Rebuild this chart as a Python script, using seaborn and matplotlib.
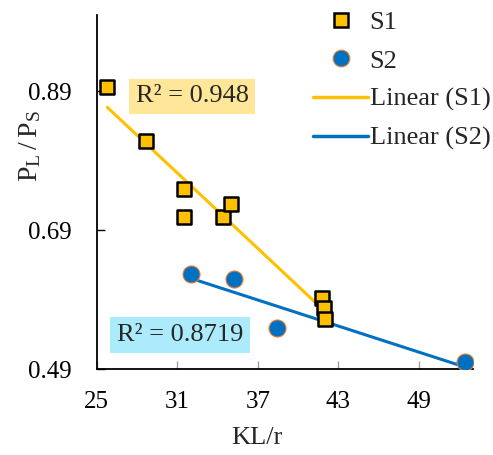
import matplotlib
matplotlib.use("Agg")
import matplotlib.pyplot as plt
from matplotlib.lines import Line2D
import pandas as pd
import seaborn as sns

# values
s1_x = [25.8, 28.65, 31.5, 31.5, 34.4, 35.0, 41.8, 41.9, 42.0]
s1_y = [0.897, 0.819, 0.749, 0.709, 0.709, 0.728, 0.593, 0.578, 0.562]
s2_x = [32.0, 35.2, 38.4, 52.4]
s2_y = [0.627, 0.619, 0.549, 0.500]
x_ticks = [25, 31, 37, 43, 49]
y_ticks = [0.49, 0.69, 0.89]
r2_s1 = "R² = 0.948"
r2_s2 = "R² = 0.8719"

gold = "#FFC000"
blue = "#0070C0"
orange = "#ED7D31"

sns.set_style("ticks")
plt.rcParams["font.family"] = ["Liberation Serif", "DejaVu Serif"]
plt.rcParams["mathtext.fontset"] = "custom"
plt.rcParams["mathtext.rm"] = "Liberation Serif"
plt.rcParams["mathtext.it"] = "Liberation Serif:italic"

df1 = pd.DataFrame({"x": s1_x, "y": s1_y})
df2 = pd.DataFrame({"x": s2_x, "y": s2_y})

fig = plt.figure(figsize=(4.93, 4.55), dpi=100)
ax = fig.add_axes([0.196, 0.189, 0.763, 0.778])

# trend lines
sns.regplot(data=df1, x="x", y="y", ax=ax, scatter=False, ci=None, truncate=True,
            line_kws={"color": gold, "lw": 2.2, "zorder": 2})
sns.regplot(data=df2, x="x", y="y", ax=ax, scatter=False, ci=None, truncate=True,
            line_kws={"color": blue, "lw": 2.2, "zorder": 2})

# points
sns.scatterplot(data=df1, x="x", y="y", ax=ax, marker="s", s=105, color=gold,
                edgecolor="black", linewidth=1.8, zorder=3)
sns.scatterplot(data=df2, x="x", y="y", ax=ax, marker="o", s=150, color=blue,
                edgecolor=orange, linewidth=0.8, zorder=3)

ax.set_xlim(25, 53)
ax.set_ylim(0.49, 1.0)
ax.set_xticks(x_ticks)
ax.set_yticks(y_ticks)
ax.set_yticklabels([f"{v:.2f}" for v in y_ticks])
ax.tick_params(direction="in", length=6, width=1, labelsize=18, colors="black")
ax.tick_params(axis="x", color="#A0A0A0", pad=16)
ax.tick_params(axis="y", pad=18)
sns.despine(ax=ax)
for sp in ["left", "bottom"]:
    ax.spines[sp].set_linewidth(1.3)
    ax.spines[sp].set_color("black")

ax.set_xlabel("KL/r", fontsize=19)
ax.set_ylabel(r"$\mathrm{P_L\:/\:P_S}$", fontsize=20)
ax.xaxis.set_label_coords(0.426, -0.163)
ax.yaxis.set_label_coords(-0.143, 0.63)

# R² labels
ax.text(32.1, 0.883, r2_s1, fontsize=19, ha="center", va="center", zorder=4,
        bbox=dict(boxstyle="square,pad=0.25", facecolor="#FFE699", edgecolor="none"))
ax.text(31.2, 0.539, r2_s2, fontsize=19, ha="center", va="center", zorder=4,
        bbox=dict(boxstyle="square,pad=0.25", facecolor="#ACEBFB", edgecolor="none"))

handles = [
    Line2D([], [], ls="none", marker="s", ms=10, mfc=gold, mec="black", mew=1.8),
    Line2D([], [], ls="none", marker="o", ms=12, mfc=blue, mec=orange, mew=0.8),
    Line2D([], [], color=gold, lw=2.5),
    Line2D([], [], color=blue, lw=2.5),
]
labels = ["S1", "S2", "Linear (S1)", "Linear (S2)"]
fig.legend(handles, labels, loc="upper right", bbox_to_anchor=(1.016, 1.0),
           frameon=False, fontsize=19, handlelength=2.1, handletextpad=0.05,
           labelspacing=0.57, borderaxespad=0.0)

fig.savefig("out.png", dpi=100)
